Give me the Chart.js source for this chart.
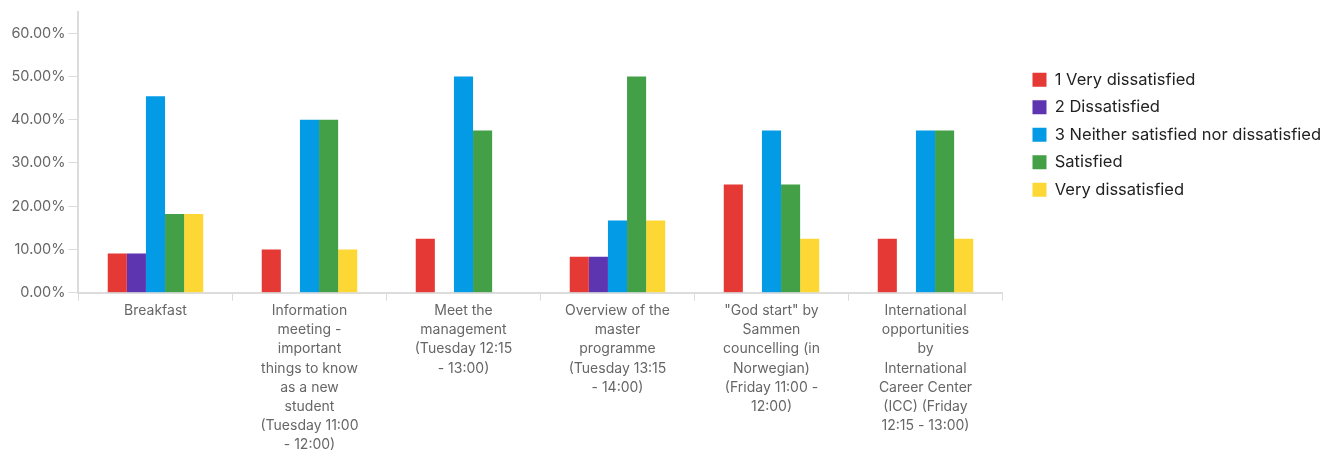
<!DOCTYPE html>
<html>
<head>
<meta charset="utf-8">
<script src="https://cdn.jsdelivr.net/npm/chart.js@4.4.1/dist/chart.umd.min.js"></script>
<style>
  body { margin: 0; background: #fff; }
  #wrap { width: 1341px; height: 450px; position: relative; }
</style>
</head>
<body>
<div id="wrap"><canvas id="surveyChart"></canvas></div>
<script>
// Categories (already broken into lines as in the reference)
const categories = [
    ["Breakfast"],
    ["Information", "meeting -", "important", "things to know", "as a new", "student", "(Tuesday 11:00", "- 12:00)"],
    ["Meet the", "management", "(Tuesday 12:15", "- 13:00)"],
    ["Overview of the", "master", "programme", "(Tuesday 13:15", "- 14:00)"],
    ["\"God start\" by", "Sammen", "councelling (in", "Norwegian)", "(Friday 11:00 -", "12:00)"],
    ["International", "opportunities", "by", "International", "Career Center", "(ICC) (Friday", "12:15 - 13:00)"]
];

// Series values, percent of answers
const veryDissatisfied1 = [9.09, 10, 12.5, 8.33, 25, 12.5];
const dissatisfied2 = [9.09, 0, 0, 8.33, 0, 0];
const neither3 = [45.45, 40, 50, 16.67, 37.5, 37.5];
const satisfied = [18.18, 40, 37.5, 50, 25, 37.5];
const veryDissatisfied = [18.18, 10, 0, 16.67, 12.5, 12.5];

const yTicks = [0, 10, 20, 30, 40, 50, 60];

const fontFamily = "Inter, 'Noto Sans', sans-serif";

function bar(label, data, color) {
    return {
        label: label,
        data: data,
        backgroundColor: color,
        borderWidth: 0,
        barPercentage: 1.0,
        categoryPercentage: 0.62
    };
}

const ctx = document.getElementById("surveyChart").getContext("2d");
const chart = new Chart(ctx, {
    type: "bar",
    data: {
        labels: categories,
        datasets: [
            bar("1 Very dissatisfied", veryDissatisfied1, "#e53935"),
            bar("2 Dissatisfied", dissatisfied2, "#5e35b1"),
            bar("3 Neither satisfied nor dissatisfied", neither3, "#039be5"),
            bar("Satisfied", satisfied, "#43a047"),
            bar("Very dissatisfied", veryDissatisfied, "#fdd835")
        ]
    },
    options: {
        responsive: true,
        maintainAspectRatio: false,
        animation: false,
        layout: { padding: { left: 8, top: 10, right: 10, bottom: -5 } },
        plugins: {
            tooltip: { enabled: false },
            legend: {
                position: "right",
                align: "start",
                maxWidth: 400,
                title: { display: true, text: " ", font: { size: 12 }, padding: { top: 36 } },
                labels: {
                    boxWidth: 14,
                    boxHeight: 14,
                    padding: 11,
                    color: "#222",
                    font: { family: fontFamily, size: 16.5 }
                }
            }
        },
        scales: {
            x: {
                grid: { display: true, drawOnChartArea: false, tickLength: 8, color: "#dcdcdc" },
                border: { color: "#dcdcdc", width: 2 },
                ticks: { color: "#666", font: { family: fontFamily, size: 14, lineHeight: 1.36 }, maxRotation: 0, autoSkip: false, padding: 1 }
            },
            y: {
                min: 0,
                max: 65,
                afterBuildTicks: (axis) => {
                    axis.ticks = yTicks.map(v => ({ value: v }));
                },
                grid: { display: true, drawOnChartArea: false, tickLength: 10, color: "#dcdcdc" },
                border: { color: "#dcdcdc", width: 2 },
                ticks: {
                    color: "#666",
                    font: { family: fontFamily, size: 14.5 },
                    padding: 3,
                    callback: (v) => v.toFixed(2) + "%"
                }
            },
            // empty spacer between the plot and the legend
            gap: {
                type: "linear",
                position: "right",
                display: true,
                grid: { display: false },
                border: { display: false },
                ticks: { display: false },
                afterFit: (scale) => { scale.width = 19; }
            }
        }
    }
});
</script>
</body>
</html>
